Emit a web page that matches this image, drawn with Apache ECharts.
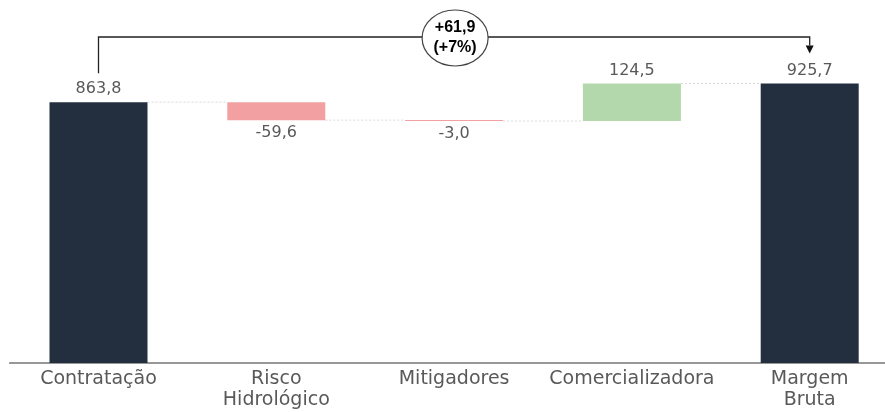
<!DOCTYPE html>
<html>
<head>
<meta charset="utf-8">
<script src="https://cdn.jsdelivr.net/npm/echarts@6/dist/echarts.min.js"></script>
<style>
  html, body { margin: 0; padding: 0; background: #fff; }
  #chart { width: 885px; height: 412px; }
</style>
</head>
<body>
<div id="chart"></div>
<script>
  // waterfall data
  var categories = ['Contratação', 'Risco\nHidrológico', 'Mitigadores', 'Comercializadora', 'Margem\nBruta']
  var values = [863.8, -59.6, -3.0, 124.5, 925.7]
  var kinds = ['total', 'delta', 'delta', 'delta', 'total']

  var colors = { total: '#232f3e', up: '#b2d8ab', down: '#f2a0a2' }
  var fmt = function (v) { return v.toFixed(1).replace('.', ',') }

  var base = [], height = [], levels = [], running = 0
  values.forEach(function (v, i) {
    if (kinds[i] === 'total') {
      base.push(0)
      height.push({
        value: v,
        itemStyle: { color: colors.total },
        label: { position: 'top', formatter: fmt(v) }
      })
      running = v
    } else {
      var next = running + v
      base.push(Math.min(running, next))
      height.push({
        value: Math.abs(v),
        itemStyle: { color: v < 0 ? colors.down : colors.up },
        label: { position: v < 0 ? 'bottom' : 'top', formatter: fmt(v) }
      })
      running = next
    }
    levels.push(running)
  })
  // connector lines between consecutive bars
  var connectors = levels.slice(0, -1).map(function (l, i) { return [i, l] })

  var first = values[0], last = values[values.length - 1]
  var diff = last - first
  var diffText = (diff >= 0 ? '+' : '') + fmt(diff)
  var pctText = '(' + (diff >= 0 ? '+' : '') + Math.round(diff / first * 100) + '%)'

  var BAR_W = 98
  var chart = echarts.init(document.getElementById('chart'))

  chart.setOption({
    animation: false,
    grid: { left: 9.6, width: 889, top: 61, bottom: 49, outerBoundsMode: 'none', containLabel: false },
    xAxis: {
      type: 'category',
      data: categories,
      axisTick: { show: false },
      axisLine: { lineStyle: { color: '#767676', width: 1.5 } },
      axisLabel: {
        color: '#595959',
        fontFamily: 'DejaVu Sans',
        fontSize: 19,
        lineHeight: 21,
        margin: 6,
        interval: 0
      }
    },
    yAxis: { type: 'value', min: 0, max: 1000, show: false },
    series: [
      {
        type: 'bar',
        stack: 'wf',
        data: base,
        barWidth: BAR_W,
        itemStyle: { color: 'transparent' },
        silent: true
      },
      {
        type: 'bar',
        stack: 'wf',
        data: height,
        barWidth: BAR_W,
        barMinHeight: 1,
        label: {
          show: true,
          color: '#595959',
          fontFamily: 'DejaVu Sans',
          fontSize: 16,
          distance: 5
        }
      },
      {
        type: 'custom',
        data: connectors,
        z: 1,
        silent: true,
        renderItem: function (params, api) {
          var i = api.value(0), l = api.value(1)
          var p1 = api.coord([i, l]), p2 = api.coord([i + 1, l])
          return {
            type: 'line',
            shape: { x1: p1[0] + BAR_W / 2, y1: p1[1], x2: p2[0] - BAR_W / 2, y2: p2[1] },
            style: { stroke: '#d9d9d9', lineWidth: 1, lineDash: [2, 2] }
          }
        }
      }
    ]
  })

  // bracket from first total to last total with difference bubble
  var pA = chart.convertToPixel({ seriesIndex: 1 }, [0, first])
  var pB = chart.convertToPixel({ seriesIndex: 1 }, [values.length - 1, last])
  var yLine = 37
  var midX = (pA[0] + pB[0]) / 2
  var lineStyle = { stroke: '#222', lineWidth: 1.3, fill: null }
  chart.setOption({
    graphic: [
      {
        type: 'polyline',
        shape: { points: [[pA[0], pA[1] - 29], [pA[0], yLine], [pB[0], yLine], [pB[0], pB[1] - 38]] },
        style: lineStyle
      },
      {
        type: 'polygon',
        shape: { points: [[pB[0] - 4, pB[1] - 38], [pB[0] + 4, pB[1] - 38], [pB[0], pB[1] - 30]] },
        style: { fill: '#111' }
      },
      {
        type: 'ellipse',
        shape: { cx: midX + 1, cy: yLine + 1, rx: 33, ry: 28 },
        style: { fill: '#fff', stroke: '#444', lineWidth: 1.2 }
      },
      {
        type: 'text',
        x: midX + 1,
        y: yLine + 1,
        style: {
          text: diffText + '\n' + pctText,
          align: 'center',
          verticalAlign: 'middle',
          fill: '#000',
          fontFamily: 'Liberation Sans',
          fontWeight: 'bold',
          fontSize: 16,
          lineHeight: 20
        }
      }
    ]
  })
</script>
</body>
</html>
